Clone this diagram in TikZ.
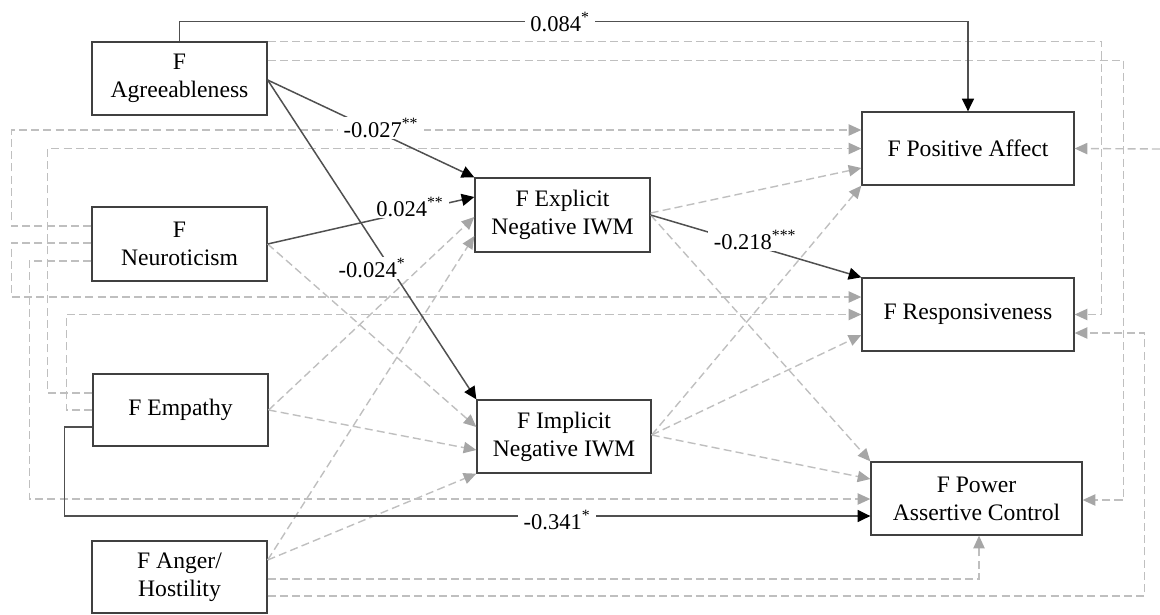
\documentclass[tikz,border=0pt]{standalone}
\usepackage{fontspec}
\setmainfont{Liberation Serif}
\usetikzlibrary{arrows.meta,calc}
\definecolor{boxc}{HTML}{404040}
\definecolor{solidc}{HTML}{505050}
\definecolor{dashc}{HTML}{BFBFBF}
\definecolor{tipc}{HTML}{A6A6A6}
\newlength{\ux}\setlength{\ux}{0.025cm}
\tikzset{
  box/.style={draw=boxc, line width=1.3\ux, fill=white, inner sep=0pt, align=center,
              font=\fontsize{16.8}{19.9}\selectfont, text=black},
  sol/.style={draw=solidc, line width=1.5\ux,
              -{Triangle[length=9pt,width=8.5pt,fill=black,color=black]}},
  dsh/.style={draw=dashc, line width=1.4\ux, dash pattern=on 5.7pt off 3pt,
              -{Triangle[length=9pt,width=8pt,fill=tipc,color=tipc]}},
  lab/.style={fill=white, inner xsep=4pt, inner ysep=1pt, text=black,
              font=\fontsize{16}{18}\selectfont},
}
\begin{document}
\begin{tikzpicture}[x=0.025cm,y=-0.025cm]
\useasboundingbox (0,0) rectangle (1160,614);
% predictors
\node[box, minimum width=175\ux, minimum height=73\ux] (agr) at (179.5,78.5) {F\\Agreeableness};
\node[box, minimum width=175\ux, minimum height=74\ux] (neu) at (179.5,244) {F\\Neuroticism};
\node[box, minimum width=175\ux, minimum height=72\ux] (emp) at (180.5,410) {F Empathy};
\node[box, minimum width=175\ux, minimum height=72\ux] (ang) at (179.5,577) {F Anger/\\Hostility};
% mediators
\node[box, minimum width=175\ux, minimum height=74\ux] (exp) at (562.5,215) {F Explicit\\Negative IWM};
\node[box, minimum width=174\ux, minimum height=73\ux] (imp) at (564,436.5) {F Implicit\\Negative IWM};
% outcomes
\node[box, minimum width=212\ux, minimum height=73\ux] (pa) at (968,148.5) {F Positive Affect};
\node[box, minimum width=212\ux, minimum height=73\ux] (resp) at (968,314.5) {F Responsiveness};
\node[box, minimum width=211\ux, minimum height=73\ux] (pow) at (976.5,498.5) {F Power\\Assertive Control};
\coordinate (edge) at (1160,149);

% dashed (non-significant) paths
\draw[dsh] (agr.north east) -- ++(834,0) |- (resp.east);
\draw[dsh] ($(agr.north east)+(0,19)$) -- ++(856,0) |- ($(pow.east)+(0,1.5)$);
\draw[dsh] ($(neu.west)+(0,-18)$) -- ++(-80,0) |- ($(pa.west)+(0,-18.5)$);
\draw[dsh] ($(neu.west)+(0,-1)$) -- ++(-80,0) |- ($(resp.west)+(0,-17.5)$);
\draw[dsh] ($(neu.west)+(0,17)$) -- ++(-62,0) |- ($(pow.west)+(0,0.5)$);
\draw[dsh] (neu.east) -- ($(imp.west)+(0,-9.5)$);
\draw[dsh] ($(emp.west)+(0,-17)$) -- ++(-45,0) |- (pa.west);
\draw[dsh] (emp.west) -- ++(-26,0) |- (resp.west);
\draw[dsh] (emp.east) -- ($(exp.west)+(0,2)$);
\draw[dsh] (emp.east) -- ($(imp.west)+(0,13.5)$);
\draw[dsh] ($(ang.east)+(0,-17)$) -- ($(exp.west)+(0,21)$);
\draw[dsh] ($(ang.east)+(0,-17)$) -- (imp.south west);
\draw[dsh] ($(ang.east)+(0,2)$) -| ($(pow.south)+(2.5,0)$);
\draw[dsh] ($(ang.east)+(0,19)$) -- ++(877,0) |- ($(resp.east)+(0,18.5)$);
\draw[dsh] (edge) -- (pa.east);
\draw[dsh] ($(exp.east)+(0,-2)$) -- ($(pa.west)+(0,19.5)$);
\draw[dsh] (exp.east) -- (pow.north west);
\draw[dsh] ($(imp.east)+(0,-1.5)$) -- (pa.south west);
\draw[dsh] ($(imp.east)+(0,-1.5)$) -- ($(resp.west)+(0,20.5)$);
\draw[dsh] ($(imp.east)+(0,-1.5)$) -- ($(pow.west)+(0,-19.5)$);

% solid (significant) paths
\draw[sol] (agr.north) -- ++(0,-20) -| (pa.north);
\draw[sol] ($(agr.east)+(0,1.5)$) -- (exp.north west);
\draw[sol] (neu.east) -- ($(exp.west)+(0,-18)$);
\draw[sol] ($(agr.east)+(0,1.5)$) -- (imp.north west);
\draw[sol] (exp.east) -- (resp.north west);
\draw[sol] ($(emp.west)+(0,17)$) -- ++(-28,0) |- ($(pow.west)+(0,17.5)$);

% labels
\node[lab] (l1) at (560,22) {0.084\textsuperscript{*}};
\node[lab] (l2) at (381,128) {-0.027\textsuperscript{**}};
\node[lab] (l3) at (410,207) {0.024\textsuperscript{**}};
\node[lab] (l4) at (372,268) {-0.024\textsuperscript{*}};
\node[lab] (l5) at (755,240) {-0.218\textsuperscript{***}};
\node[lab] (l6) at (557,520) {-0.341\textsuperscript{*}};
\end{tikzpicture}
\end{document}
